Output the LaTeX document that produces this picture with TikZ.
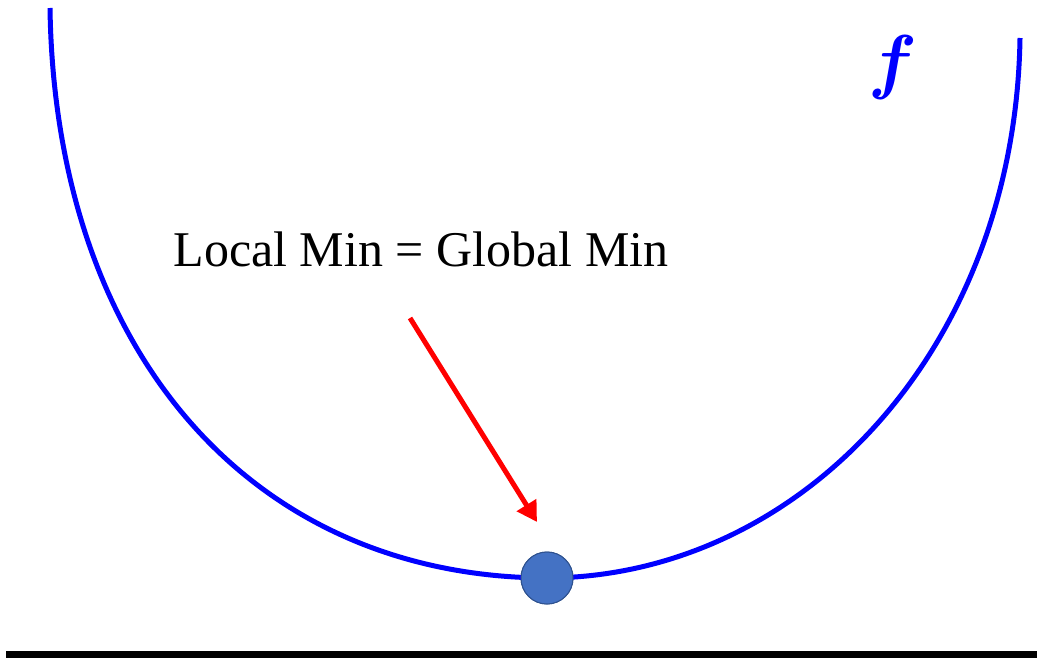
\documentclass[tikz,border=0pt]{standalone}
\usepackage{fix-cm}
\usepackage{fontspec}
\setmainfont{Liberation Serif}
\usetikzlibrary{arrows.meta}

\begin{document}
\begin{tikzpicture}[x=0.5pt, y=-0.5pt,
  curve/.style={draw=blue, line width=2.5pt},
  pointer/.style={draw=red, line width=2.5pt, -{Triangle[length=10pt, width=11pt]}},
  mindot/.style={circle, fill={rgb,255:red,68;green,114;blue,196},
    draw={rgb,255:red,47;green,82;blue,143}, line width=0.5pt,
    minimum size=26pt, inner sep=0pt},
  lbl/.style={font=\fontsize{25}{29}\selectfont, inner sep=0pt}
]
\useasboundingbox (0,0) rectangle (1037,658);

\coordinate (left)  at (50,8);
\coordinate (right) at (1020,38);
\node[mindot] (dot) at (547,578) {};
\node[lbl, anchor=base] (text) at (421,266) {Local Min = Global Min};
\node[text=blue, font=\fontsize{36}{40}\selectfont\boldmath, inner sep=0pt]
  (fname) at (893,67) {$f$};
\coordinate (tail) at (410,318);
\coordinate (tip)  at (537,522);

\draw[curve] (left) .. controls (55,350) and (250,577) .. (dot.center)
             .. controls (800,577) and (1015,350) .. (right);
\node[mindot] at (dot) {};
\draw[pointer] (tail) -- (tip);

% axis
\fill[black] (6,651) rectangle (1037,658);
\end{tikzpicture}
\end{document}
